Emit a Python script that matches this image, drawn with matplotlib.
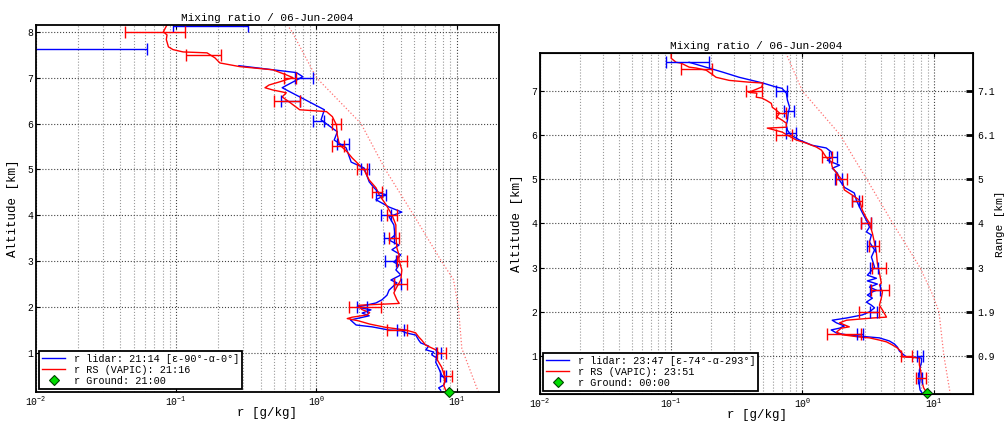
import matplotlib
matplotlib.use("Agg")
import matplotlib.pyplot as plt
import numpy as np

plt.rcParams['font.family'] = ['Liberation Mono', 'DejaVu Sans Mono', 'DejaVu Sans']

# profiles: (altitude km, mixing ratio g/kg)
left_lidar = [(7.26,0.28),(7.11,0.72),(7.02,0.80),(6.78,0.57),(6.30,1.14),(6.08,1.08),(5.82,1.41),(5.64,1.34),
              (5.47,1.63),(5.16,1.77),(5.03,2.19),(4.73,2.38),(4.60,2.58),(4.49,2.80),(4.45,3.14),(4.34,2.66),
              (4.18,3.30),(4.07,4.07),(3.97,3.30),(3.79,3.57),(3.57,3.63),(3.46,3.30),(3.35,3.88),(3.25,3.46),
              (3.14,4.0),(2.98,3.57),(2.92,3.88),(2.81,3.69),(2.70,4.0),(2.59,3.40),(2.53,3.75),(2.37,3.30),
              (2.26,3.19),(2.16,2.94),(2.09,2.66),(2.0,1.95),(1.94,2.45),(1.87,2.12),(1.81,2.38),(1.72,1.75),
              (1.61,1.92),(1.57,2.49),(1.50,3.30),(1.49,4.0),(1.44,4.35),(1.39,5.12),(1.28,5.37),(1.22,5.55),
              (1.15,6.33),(1.07,6.03),(1.02,6.87),(0.96,6.65),(0.89,7.21),(0.80,7.10),(0.67,7.45),(0.52,7.83),
              (0.41,8.36),(0.30,8.09),(0.24,7.45),(0.19,7.70)]
left_rs = [(8.15,0.086),(8.0,0.081),(7.93,0.086),(7.83,0.085),(7.67,0.088),(7.61,0.095),(7.56,0.112),(7.54,0.166),
           (7.43,0.189),(7.32,0.205),(7.24,0.284),(7.17,0.49),(7.06,0.61),(7.0,0.68),(6.91,0.55),(6.84,0.46),
           (6.78,0.43),(6.73,0.49),(6.67,0.61),(6.58,0.57),(6.47,0.64),(6.41,0.68),(6.30,0.76),(6.26,1.18),
           (6.15,1.30),(5.97,1.39),(5.75,1.41),(5.54,1.46),(5.38,1.66),(5.25,1.80),(5.10,2.02),(4.99,2.19),
           (4.77,2.38),(4.60,2.66),(4.45,2.80),(4.23,3.14),(4.01,3.46),(3.79,3.69),(3.57,3.69),(3.29,3.75),
           (3.14,3.88),(3.03,3.88),(2.81,4.07),(2.59,4.0),(2.44,3.75),(2.31,3.57),(2.16,3.75),(2.08,3.9),
           (2.04,2.0),(1.95,2.1),(1.88,2.4),(1.83,2.3),(1.78,1.8),(1.75,1.66),(1.70,2.0),(1.63,2.4),
           (1.56,3.1),(1.50,4.35),(1.44,5.1),(1.35,5.37),(1.28,5.64),(1.17,6.03),(1.07,7.1),(1.0,7.45),
           (0.91,7.1),(0.80,7.45),(0.69,7.83),(0.56,8.09),(0.41,8.36),(0.30,8.09),(0.19,8.36),(0.15,8.4)]
right_lidar = [(7.65,0.137),(7.43,0.245),(7.31,0.33),(7.18,0.50),(7.09,0.63),(7.06,0.70),(6.95,0.755),(6.79,0.77),
               (6.63,0.80),(6.50,0.78),(6.34,0.77),(6.23,0.755),(6.11,0.77),(6.0,0.82),(5.89,0.95),(5.77,1.19),
               (5.71,1.52),(5.62,1.66),(5.50,1.69),(5.43,1.55),(5.32,1.92),(5.25,1.69),(5.14,1.85),(4.98,1.92),
               (4.82,2.09),(4.69,2.49),(4.53,2.58),(4.38,2.72),(4.24,2.87),(4.03,3.13),(3.92,3.25),(3.81,3.08),
               (3.74,3.36),(3.58,3.25),(3.40,3.55),(3.24,3.36),(3.17,3.42),(3.01,3.55),(2.83,3.13),(2.76,3.67),
               (2.70,3.13),(2.63,3.73),(2.56,3.25),(2.49,3.67),(2.45,3.42),(2.38,3.13),(2.31,3.42),(2.22,3.08),
               (2.15,3.36),(2.09,3.55),(2.0,3.25),(1.93,2.87),(1.86,2.17),(1.81,1.69),(1.75,1.82),(1.68,2.09),
               (1.63,1.92),(1.59,1.66),(1.52,1.82),(1.48,2.17),(1.45,2.72),(1.43,3.25),(1.41,3.87),(1.34,4.61),
               (1.27,5.04),(1.20,5.31),(1.11,5.5),(1.05,5.8),(0.98,6.2),(0.97,7.55),(0.95,8.1),(0.86,8.1),
               (0.68,7.8),(0.46,7.9),(0.34,7.8),(0.23,7.9),(0.16,8.2)]
right_rs = [(7.86,0.10),(7.74,0.10),(7.65,0.109),(7.63,0.119),(7.54,0.137),(7.52,0.155),(7.47,0.185),(7.40,0.20),
            (7.31,0.22),(7.24,0.277),(7.20,0.39),(7.18,0.50),(7.09,0.49),(7.02,0.43),(6.97,0.39),(6.95,0.45),
            (6.86,0.445),(6.84,0.49),(6.79,0.53),(6.72,0.58),(6.63,0.59),(6.57,0.63),(6.50,0.67),(6.41,0.64),
            (6.34,0.70),(6.27,0.755),(6.18,0.755),(6.16,0.54),(6.07,0.70),(6.0,0.77),(5.89,0.90),(5.82,1.07),
            (5.73,1.28),(5.66,1.40),(5.50,1.52),(5.39,1.66),(5.28,1.69),(5.14,1.82),(4.98,2.02),(4.76,2.09),
            (4.64,2.41),(4.53,2.72),(4.30,2.87),(4.12,3.08),(4.01,3.25),(3.78,3.42),(3.56,3.55),(3.33,3.67),
            (3.10,3.73),(2.88,3.87),(2.65,4.0),(2.61,3.87),(2.45,4.08),(2.31,4.0),(2.15,3.87),(2.04,4.08),
            (1.88,4.38),(1.86,3.42),(1.81,2.17),(1.75,1.92),(1.66,2.28),(1.63,1.98),(1.54,1.82),(1.48,2.02),
            (1.43,2.72),(1.41,3.25),(1.36,3.87),(1.32,4.38),(1.25,4.86),(1.18,5.31),(1.09,5.70),(0.98,5.8),
            (0.97,6.9),(0.95,7.8),(0.80,7.8),(0.57,8.1),(0.41,8.2),(0.28,8.4),(0.19,8.8)]

# error bars: (altitude, low, high)
left_lidar_err = [(8.13,0.095,0.324),(7.63,0.005,0.062),(7.0,0.70,0.94),(6.5,0.56,0.76),(6.05,0.94,1.14),
                  (5.55,1.41,1.71),(5.0,2.09,2.38),(4.45,2.66,3.14),(4.0,2.89,3.40),(3.5,3.04,3.57),
                  (3.0,3.09,3.69),(2.5,3.57,4.0),(2.0,1.95,2.30),(1.5,3.75,4.21),(1.0,7.10,7.70),(0.5,7.6,8.4)]
left_rs_err = [(8.0,0.043,0.116),(7.5,0.118,0.21),(7.0,0.59,0.71),(6.5,0.50,0.76),(6.0,1.30,1.50),
               (5.5,1.30,1.58),(5.0,1.95,2.30),(4.5,2.49,2.94),(4.0,3.19,3.75),(3.5,3.30,3.88),
               (3.0,3.75,4.42),(2.5,3.57,4.42),(2.0,1.71,2.89),(1.5,3.19,4.42),(1.0,7.21,8.36),(0.5,8.09,9.22)]
right_lidar_err = [(7.65,0.092,0.195),(7.0,0.63,0.77),(6.55,0.72,0.87),(6.05,0.755,0.90),(5.5,1.61,1.85),
                   (5.0,1.76,2.02),(4.5,2.37,2.72),(4.0,2.82,3.36),(3.5,3.13,3.55),(3.0,3.3,3.8),
                   (2.5,3.3,3.9),(2.0,3.3,3.7),(1.5,2.6,2.9),(1.0,7.5,8.3),(0.5,7.6,8.2)]
right_rs_err = [(7.5,0.119,0.206),(7.0,0.37,0.49),(6.5,0.63,0.755),(6.0,0.63,0.84),(5.5,1.40,1.69),
                (5.0,1.82,2.2),(4.5,2.41,2.87),(4.0,2.82,3.36),(3.5,3.25,3.87),(3.0,3.42,4.38),
                (2.5,3.36,4.61),(2.0,2.72,3.87),(1.5,1.55,2.82),(1.0,5.70,6.9),(0.5,7.4,8.8)]

# saturation mixing ratio (dotted)
left_sat = [(8.15,0.62),(8.0,0.67),(7.0,1.0),(6.0,2.08),(5.0,3.1),(4.0,4.95),(3.0,7.8),(2.6,9.5),
            (2.0,10.3),(1.1,10.9),(0.15,14.3)]
right_sat = [(7.86,0.75),(7.0,1.0),(6.0,1.95),(5.5,2.45),(5.0,3.1),(4.0,4.9),(3.0,7.9),(2.4,9.8),
             (2.0,11.0),(1.0,12.0),(0.15,13.4)]

left_ground = (0.16, 8.8)
right_ground = (0.16, 8.85)

left_labels = ["r lidar: 21:14 [ε-90°-α-0°]", "r RS (VAPIC): 21:16", "r Ground: 21:00"]
right_labels = ["r lidar: 23:47 [ε-74°-α-293°]", "r RS (VAPIC): 23:51", "r Ground: 00:00"]

range_ticks = [1, 2, 3, 4, 5, 6, 7]
range_labels = ["0.9", "1.9", "3", "4", "5", "6.1", "7.1"]


def draw(ax, lidar, rs, lidar_err, rs_err, sat, ground, labels, ylim):
    a, r = zip(*sat)
    ax.plot(r, a, ':', color='#ff7070', lw=0.9)
    a, r = zip(*lidar)
    l1, = ax.plot(r, a, color='blue', lw=1)
    a, r = zip(*rs)
    l2, = ax.plot(r, a, color='red', lw=1)
    for err, col in [(lidar_err, 'blue'), (rs_err, 'red')]:
        a, lo, hi = map(np.array, zip(*err))
        c = np.sqrt(lo * hi)
        ax.errorbar(c, a, xerr=[c - lo, hi - c], fmt='none', ecolor=col, elinewidth=1,
                    capsize=4, capthick=1)
    l3, = ax.plot([ground[1]], [ground[0]], 'D', color='#00dd00', mec='#004400',
                  ms=5, mew=0.8, clip_on=False, zorder=5)
    ax.set_xscale('log')
    ax.set_xlim(0.01, 20)
    ax.set_ylim(*ylim)
    ax.grid(True, which='major', ls=':', color='#444444', lw=0.8)
    ax.grid(True, which='minor', axis='x', ls=':', color='#999999', lw=0.8)
    ax.set_title("Mixing ratio / 06-Jun-2004", fontsize=8, pad=3)
    ax.set_xlabel("r [g/kg]", fontsize=9, labelpad=-1)
    ax.set_ylabel("Altitude [km]", fontsize=9, labelpad=6)
    ax.tick_params(direction='in', labelsize=7, top=True, which='both', length=3, pad=2)
    ax.tick_params(axis='x', which='minor', length=0)
    for s in ax.spines.values():
        s.set_linewidth(1.3)
    leg = ax.legend([l1, l2, l3], labels, loc='lower left', fontsize=7.3, fancybox=False,
                    framealpha=1, edgecolor='black', borderpad=0.3, labelspacing=0.1,
                    handlelength=2.3, borderaxespad=0.3)
    leg.get_frame().set_linewidth(1.3)


fig = plt.figure(figsize=(10.06, 4.22), dpi=100)
ax1 = fig.add_axes([0.0358, 0.0711, 0.460, 0.870])
ax2 = fig.add_axes([0.5368, 0.0664, 0.4304, 0.808])

draw(ax1, left_lidar, left_rs, left_lidar_err, left_rs_err, left_sat, left_ground, left_labels, (0.15, 8.15))
draw(ax2, right_lidar, right_rs, right_lidar_err, right_rs_err, right_sat, right_ground, right_labels, (0.14, 7.86))

ax3 = ax2.twinx()
ax3.set_ylim(ax2.get_ylim())
ax3.set_yticks(range_ticks)
ax3.set_yticklabels(range_labels)
ax3.tick_params(direction='in', labelsize=7, length=5, width=2, pad=3)
ax3.set_ylabel("Range [km]", fontsize=8)
ax3.yaxis.set_label_coords(1.05, 0.5)

fig.savefig("out.png", dpi=100)
